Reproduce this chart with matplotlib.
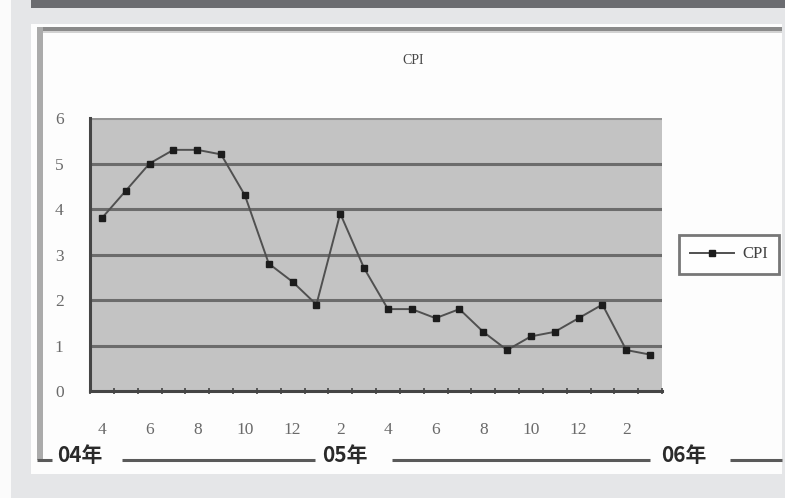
import matplotlib
matplotlib.use("Agg")
import matplotlib.pyplot as plt
from matplotlib.patches import Rectangle
from matplotlib.lines import Line2D

# Monthly CPI, April 2004 - March 2006
months = [4, 5, 6, 7, 8, 9, 10, 11, 12,
          1, 2, 3, 4, 5, 6, 7, 8, 9, 10, 11, 12,
          1, 2, 3]
cpi = [3.8, 4.4, 5.0, 5.3, 5.3, 5.2, 4.3, 2.8, 2.4,
       1.9, 3.9, 2.7, 1.8, 1.8, 1.6, 1.8, 1.3, 0.9, 1.2, 1.3, 1.6,
       1.9, 0.9, 0.8]
year_labels = ["04年", "05年", "06年"]
y_ticks = [0, 1, 2, 3, 4, 5, 6]
series_name = "CPI"

W, H = 785, 498
fig = plt.figure(figsize=(W / 100, H / 100), dpi=100)
fig.patch.set_facecolor("#e5e6e8")


def fx(px):
    return px / W


def fy(py):
    return 1 - py / H


def frect(x0, y0, x1, y1, color, z=0):
    fig.patches.append(Rectangle((fx(x0), fy(y1)), fx(x1) - fx(x0), fy(y0) - fy(y1),
                                 transform=fig.transFigure, facecolor=color,
                                 edgecolor="none", zorder=z))


def fline(x0, y0, x1, y1, color, lw, z=1):
    fig.lines.append(Line2D([fx(x0), fx(x1)], [fy(y0), fy(y1)], transform=fig.transFigure,
                            color=color, linewidth=lw, zorder=z, solid_capstyle="butt"))


# page decoration: white strip, dark header band, white chart panel with frame
frect(0, 0, 11, H, "#fbfbfb", -3)
frect(31, 0, W, 8, "#6b6c70", -3)
frect(31, 24, 782, 474, "#fdfdfd", -3)
frect(40, 27, 782, 31, "#8a8a8a", -2)
frect(40, 31, 782, 33, "#d2d2d2", -2)
frect(37, 27, 43, 460, "#ababab", -2)

# plot area
ax = fig.add_axes([fx(90), fy(391), fx(662) - fx(90), fy(118) - fy(391)])
ax.set_zorder(5)
ax.set_facecolor("#c3c3c3")
x = list(range(len(cpi)))
ax.plot(x, cpi, color="#505050", linewidth=1.4, marker="s", markersize=4,
        markerfacecolor="#1c1c1c", markeredgecolor="#1c1c1c", label=series_name, zorder=3)

ax.set_xlim(-0.5, len(cpi) - 0.5)
ax.set_ylim(0, 6)
ax.set_yticks(y_ticks)
ax.set_yticklabels([str(v) for v in y_ticks])
for v in y_ticks[1:-1]:
    ax.axhline(v, color="#6c6c6c", linewidth=2.2, zorder=1)
ax.axhline(y_ticks[-1], color="#959595", linewidth=2.2, zorder=1)

ax.set_xticks(x[::2])
ax.set_xticklabels([str(m) for m in months[::2]])
ax.set_xticks([i - 0.5 for i in range(len(cpi) + 1)], minor=True)
ax.tick_params(axis="x", which="major", length=0, pad=22, labelsize=12.5, labelcolor="#6a6a6a")
ax.tick_params(axis="x", which="minor", length=5, direction="inout", color="#444444", width=1.2)
ax.tick_params(axis="y", length=0, pad=19, labelsize=12.5, labelcolor="#6a6a6a")
for lab in ax.get_xticklabels() + ax.get_yticklabels():
    lab.set_family("Liberation Serif")

for s in ("top", "right"):
    ax.spines[s].set_visible(False)
for s in ("left", "bottom"):
    ax.spines[s].set_color("#454545")
    ax.spines[s].set_linewidth(2.2)

# title
fig.text(fx(413), fy(60), series_name, ha="center", va="center", fontsize=10,
         family="Liberation Serif", color="#454545")

# legend
leg = ax.legend(loc="center", bbox_to_anchor=(fx(729), fy(254.5)),
                bbox_transform=fig.transFigure, fancybox=False, frameon=True,
                prop={"family": "Liberation Serif", "size": 12}, handlelength=2.6,
                handletextpad=0.5, borderpad=0.7, borderaxespad=0)
leg.get_frame().set_edgecolor("#555555")
leg.get_frame().set_linewidth(2)
leg.get_frame().set_facecolor("white")
for t in leg.get_texts():
    t.set_color("#404040")

# year grouping row beneath the month labels
for x0, x1 in [(37, 52), (122, 315), (392, 650), (730, 782)]:
    fline(x0, 460, x1, 460, "#5a5a5a", 2.2)
for label, px in zip(year_labels, [80, 345, 684]):
    fig.text(fx(px), fy(456), label, ha="center", va="center", fontsize=15,
             family=["Noto Sans CJK SC", "DejaVu Sans"], fontweight="bold", color="#2a2a2a")

fig.savefig("out.png", dpi=100, facecolor=fig.get_facecolor())
